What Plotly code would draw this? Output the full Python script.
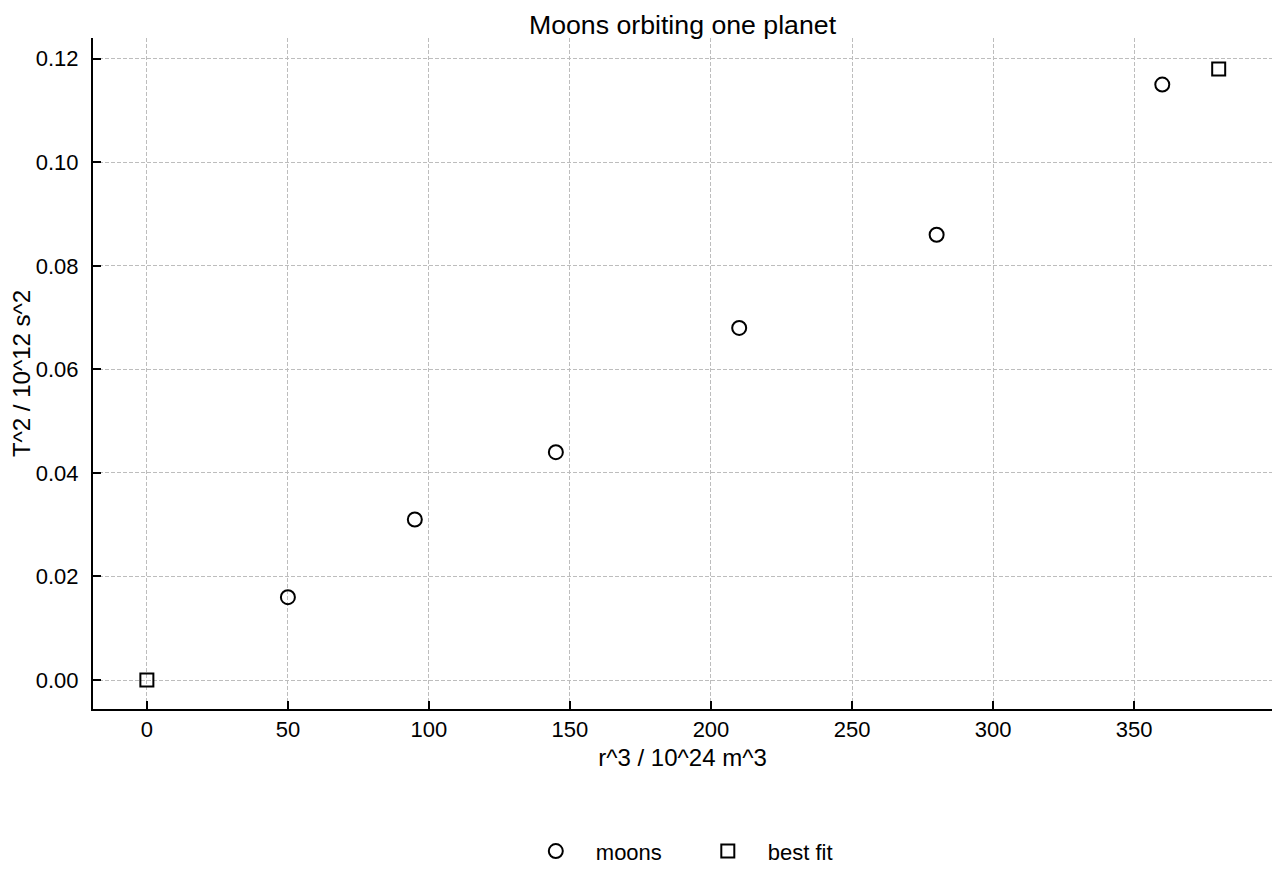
import plotly.graph_objects as go

# moons: r^3 (10^24 m^3) vs T^2 (10^12 s^2)
moons_r3 = [50, 95, 145, 210, 280, 360]
moons_t2 = [0.016, 0.031, 0.044, 0.068, 0.086, 0.115]

# best fit line end points, drawn as markers only
fit_r3 = [0, 380]
fit_t2 = [0.0, 0.118]

x_ticks = [0, 50, 100, 150, 200, 250, 300, 350]
y_ticks = [0.00, 0.02, 0.04, 0.06, 0.08, 0.10, 0.12]

FONT = "Liberation Sans, Arial, sans-serif"

fig = go.Figure()
fig.add_trace(go.Scatter(x=moons_r3, y=moons_t2, mode="markers", name="moons",
                         marker=dict(symbol="circle-open", size=14, color="black", line=dict(width=2))))
fig.add_trace(go.Scatter(x=fit_r3, y=fit_t2, mode="markers", name="best fit",
                         marker=dict(symbol="square-open", size=13, color="black", line=dict(width=2))))

axis_style = dict(showline=True, linecolor="black", linewidth=2, mirror=False,
                  ticks="inside", ticklen=8, tickwidth=2, tickcolor="black",
                  showgrid=True, gridcolor="#bdbdbd", gridwidth=1, griddash="4px,2px",
                  zeroline=False, tickfont=dict(size=22, color="black"))

fig.update_xaxes(range=[-19.1, 398.9], tickvals=x_ticks, tickformat="d",
                 title=dict(text="r^3 / 10^24 m^3", font=dict(size=24, color="black"), standoff=8),
                 **axis_style)
fig.update_yaxes(range=[-0.0056, 0.124], tickvals=y_ticks, tickformat=".2f", ticklabelstandoff=8,
                 title=dict(text="T^2 / 10^12 s^2", font=dict(size=24, color="black"), standoff=4),
                 **axis_style)

# the page body has an 8px margin, so the figure is 8px smaller each way
fig.update_layout(
    width=1272, height=872,
    paper_bgcolor="white", plot_bgcolor="white",
    font=dict(family=FONT, color="black"),
    margin=dict(l=85, r=8, t=30, b=168),
    title=dict(text="Moons orbiting one planet", xref="paper", x=0.5, xanchor="center",
               yref="paper", y=1, yanchor="bottom", pad=dict(b=4), font=dict(size=26.7, color="black")),
    legend=dict(orientation="h", x=0.5045, xanchor="center", y=-0.212, yanchor="middle",
                font=dict(size=22, color="black"), itemwidth=70,
                entrywidth=87, entrywidthmode="pixels"),
)

fig.write_html("out.html")
